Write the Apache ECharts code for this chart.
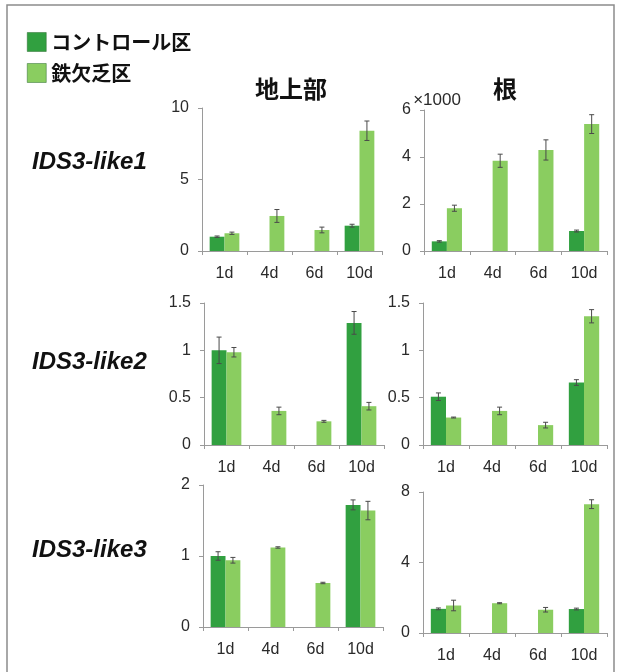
<!DOCTYPE html>
<html>
<head>
<meta charset="utf-8">
<script src="https://cdn.jsdelivr.net/npm/echarts@6/dist/echarts.min.js"></script>
<style>
  html, body { margin: 0; padding: 0; background: #fff; }
  #chart { width: 622px; height: 672px; }
</style>
</head>
<body>
<div id="chart"></div>
<script>
// Sampling days
const days = ['1d', '4d', '6d', '10d'];
const seriesNames = ['コントロール区', '鉄欠乏区'];
const columnTitles = ['地上部', '根'];
const geneNames = ['IDS3-like1', 'IDS3-like2', 'IDS3-like3'];

// Relative expression, shoot (地上部) and root (根); null = not measured
const like1ShootCtrl = [1.0, null, null, 1.77];
const like1ShootCtrlErr = [0.05, null, null, 0.1];
const like1ShootFe = [1.24, 2.45, 1.47, 8.41];
const like1ShootFeErr = [0.08, 0.45, 0.2, 0.68];

// root values in units of ×1000
const like1RootCtrl = [0.41, null, null, 0.85];
const like1RootCtrlErr = [0.03, null, null, 0.04];
const like1RootFe = [1.82, 3.84, 4.30, 5.40];
const like1RootFeErr = [0.13, 0.28, 0.43, 0.4];

const like2ShootCtrl = [1.0, null, null, 1.29];
const like2ShootCtrlErr = [0.14, null, null, 0.12];
const like2ShootFe = [0.98, 0.36, 0.25, 0.41];
const like2ShootFeErr = [0.05, 0.04, 0.01, 0.04];

const like2RootCtrl = [0.51, null, null, 0.66];
const like2RootCtrlErr = [0.04, null, null, 0.03];
const like2RootFe = [0.29, 0.36, 0.21, 1.36];
const like2RootFeErr = [0.005, 0.04, 0.03, 0.07];

const like3ShootCtrl = [1.0, null, null, 1.72];
const like3ShootCtrlErr = [0.06, null, null, 0.07];
const like3ShootFe = [0.94, 1.12, 0.62, 1.64];
const like3ShootFeErr = [0.04, 0.01, 0.01, 0.13];

const like3RootCtrl = [1.37, null, null, 1.36];
const like3RootCtrlErr = [0.05, null, null, 0.05];
const like3RootFe = [1.56, 1.69, 1.32, 7.31];
const like3RootFeErr = [0.3, 0.03, 0.13, 0.25];

// Y-axis ranges per panel
const axisMax = [10, 6, 1.5, 1.5, 2, 8];
const axisInterval = [5, 2, 0.5, 0.5, 1, 4];

const panels = [
  { ctrl: like1ShootCtrl, ctrlErr: like1ShootCtrlErr, fe: like1ShootFe, feErr: like1ShootFeErr },
  { ctrl: like1RootCtrl, ctrlErr: like1RootCtrlErr, fe: like1RootFe, feErr: like1RootFeErr },
  { ctrl: like2ShootCtrl, ctrlErr: like2ShootCtrlErr, fe: like2ShootFe, feErr: like2ShootFeErr },
  { ctrl: like2RootCtrl, ctrlErr: like2RootCtrlErr, fe: like2RootFe, feErr: like2RootFeErr },
  { ctrl: like3ShootCtrl, ctrlErr: like3ShootCtrlErr, fe: like3ShootFe, feErr: like3ShootFeErr },
  { ctrl: like3RootCtrl, ctrlErr: like3RootCtrlErr, fe: like3RootFe, feErr: like3RootFeErr }
];

const grids = [
  { left: 202, top: 108, width: 180, height: 143 },
  { left: 424, top: 110, width: 183, height: 141 },
  { left: 204, top: 303, width: 180, height: 142 },
  { left: 423, top: 303, width: 184, height: 142 },
  { left: 203, top: 485, width: 180, height: 142 },
  { left: 423, top: 492, width: 184, height: 141 }
];

const DARK = '#31a040';
const LIGHT = '#8acd60';
const AXIS = '#9a9a9a';
const FONT = '"Liberation Sans", Arial, sans-serif';
const CJK = '"Noto Sans CJK JP", sans-serif';

// Error bar drawn at the centre of the left (-1) or right (+1) bar of a group
function errorBar(side) {
  return function (params, api) {
    const idx = api.value(0), v = api.value(1), e = api.value(2);
    const catW = api.size([1, 0])[0];
    const bw = catW * 0.33;
    const lo = api.coord([idx, v - e]);
    const hi = api.coord([idx, v + e]);
    const x = lo[0] + side * bw / 2;
    const cap = 2.5;
    const st = { stroke: '#4a4a4a', lineWidth: 1 };
    return {
      type: 'group',
      children: [
        { type: 'line', shape: { x1: x, y1: lo[1], x2: x, y2: hi[1] }, style: st },
        { type: 'line', shape: { x1: x - cap, y1: lo[1], x2: x + cap, y2: lo[1] }, style: st },
        { type: 'line', shape: { x1: x - cap, y1: hi[1], x2: x + cap, y2: hi[1] }, style: st }
      ]
    };
  };
}

function errData(vals, errs) {
  const out = [];
  vals.forEach((v, i) => { if (v !== null) out.push([i, v, errs[i]]); });
  return out;
}

const gridOpt = [], xAxes = [], yAxes = [], series = [];
panels.forEach((p, k) => {
  gridOpt.push(Object.assign({ containLabel: false }, grids[k]));
  xAxes.push({
    type: 'category', gridIndex: k, data: days, boundaryGap: true,
    axisLine: { lineStyle: { color: AXIS, width: 1 } },
    axisTick: { show: true, alignWithLabel: false, interval: 0, length: 4, lineStyle: { color: AXIS } },
    axisLabel: { color: '#2a2a2a', fontSize: 16, fontFamily: FONT, margin: 15, interval: 0 }
  });
  yAxes.push({
    type: 'value', gridIndex: k, min: 0, max: axisMax[k], interval: axisInterval[k],
    splitLine: { show: false },
    axisLine: { show: true, lineStyle: { color: AXIS, width: 1 } },
    axisTick: { show: true, length: 4, lineStyle: { color: AXIS } },
    axisLabel: { color: '#2a2a2a', fontSize: 16, fontFamily: FONT, margin: 13 }
  });
  series.push({
    name: seriesNames[0], type: 'bar', xAxisIndex: k, yAxisIndex: k,
    data: p.ctrl.map(v => v === null ? '-' : v),
    barWidth: '33%', barGap: '0%', itemStyle: { color: DARK }, silent: true
  });
  series.push({
    name: seriesNames[1], type: 'bar', xAxisIndex: k, yAxisIndex: k,
    data: p.fe.map(v => v === null ? '-' : v),
    barWidth: '33%', barGap: '0%', itemStyle: { color: LIGHT }, silent: true
  });
  series.push({
    type: 'custom', xAxisIndex: k, yAxisIndex: k, renderItem: errorBar(-1),
    encode: { x: 0, y: 1 }, data: errData(p.ctrl, p.ctrlErr), silent: true, z: 5
  });
  series.push({
    type: 'custom', xAxisIndex: k, yAxisIndex: k, renderItem: errorBar(1),
    encode: { x: 0, y: 1 }, data: errData(p.fe, p.feErr), silent: true, z: 5
  });
});

const rowY = [162, 362, 550];
const graphics = [
  { type: 'rect', shape: { x: 7, y: 5, width: 607, height: 700 },
    style: { fill: 'none', stroke: '#8c8c8c', lineWidth: 1.5 }, silent: true },
  // scale note just right of the top tick label of the root panel
  { type: 'text', x: 437, y: 100,
    style: { text: '×1000', fill: '#2a2a2a', font: '17px ' + FONT, textAlign: 'center', textVerticalAlign: 'middle' } },
  { type: 'text', x: 291, y: 89,
    style: { text: columnTitles[0], fill: '#111', font: 'bold 24px ' + CJK, textAlign: 'center', textVerticalAlign: 'middle' } },
  { type: 'text', x: 505, y: 89,
    style: { text: columnTitles[1], fill: '#111', font: 'bold 24px ' + CJK, textAlign: 'center', textVerticalAlign: 'middle' } }
];
geneNames.forEach((g, i) => {
  graphics.push({ type: 'text', x: 32, y: rowY[i],
    style: { text: g, fill: '#111', font: 'italic bold 24px ' + FONT, textAlign: 'left', textVerticalAlign: 'middle' } });
});

const chart = echarts.init(document.getElementById('chart'), null, { renderer: 'canvas' });
chart.setOption({
  animation: false,
  backgroundColor: '#fff',
  legend: {
    data: seriesNames, orient: 'vertical', left: 27, top: 32, padding: 0,
    itemWidth: 19, itemHeight: 19, itemGap: 11, icon: 'rect',
    itemStyle: { borderColor: '#2a6b2f', borderWidth: 0.5 },
    textStyle: { fontSize: 20, fontFamily: CJK, color: '#111', fontWeight: 'bold' },
    selectedMode: false
  },
  grid: gridOpt,
  xAxis: xAxes,
  yAxis: yAxes,
  series: series,
  graphic: graphics
});
</script>
</body>
</html>
